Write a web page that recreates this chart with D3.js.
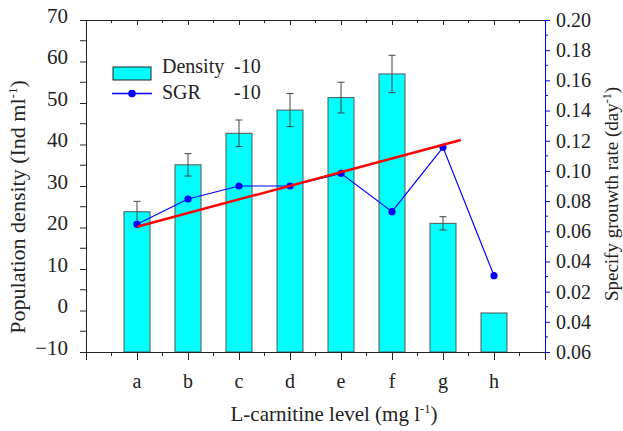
<!DOCTYPE html>
<html>
<head>
<meta charset="utf-8">
<script src="https://cdn.jsdelivr.net/npm/d3@7"></script>
<style>
  body { margin: 0; background: #fff; }
  svg text { font-family: "Liberation Serif", "Times New Roman", serif; fill: #222; }
</style>
</head>
<body>
<svg id="chart" width="623" height="431"></svg>
<script>
// data
var categories = ["a", "b", "c", "d", "e", "f", "g", "h"];
var density = [23.8, 35.1, 42.7, 48.3, 51.3, 57.0, 21.0, -0.6];
var densityErr = [2.5, 2.7, 3.2, 4.0, 3.7, 4.5, 1.6, 0];
var sgr = [0.0646, 0.0814, 0.090, 0.090, 0.0984, 0.073, 0.1156, 0.0306];
// red trend line, [category index, sgr]
var trend = [[0, 0.063], [6.35, 0.1205]];
var leftTicks = [-10, 0, 10, 20, 30, 40, 50, 60, 70];
var rightTicks = [0.20, 0.18, 0.16, 0.14, 0.12, 0.10, 0.08, 0.06, 0.04, 0.02, 0.00, -0.02];
// the picture prints these labels on the right axis
var rightLabels = ["0.20", "0.18", "0.16", "0.14", "0.12", "0.10", "0.08", "0.06", "0.04", "0.02", "0.04", "0.06"];

var svg = d3.select("#chart");
var margin = {left: 86, right: 78, top: 20, bottom: 79};
var W = 623, H = 431;

var x = d3.scaleLinear().domain([0, 9]).range([margin.left, W - margin.right]);
var y = d3.scaleLinear().domain([-10, 70]).range([H - margin.bottom, margin.top]);
var y2 = d3.scaleLinear().domain([-0.02, 0.20]).range([H - margin.bottom, margin.top]);

var step = x(1) - x(0);
var barW = step * 0.51;

// bars
svg.append("g").selectAll("rect")
  .data(density)
  .enter().append("rect")
  .attr("x", (d, i) => x(i + 1) - barW / 2)
  .attr("y", d => y(d))
  .attr("width", barW)
  .attr("height", d => y(-10) - y(d))
  .attr("fill", "#00ffff")
  .attr("stroke", "#555")
  .attr("stroke-width", 1);

// error bars
var eb = svg.append("g").attr("stroke", "#444").attr("stroke-width", 1);
density.forEach(function(d, i) {
  if (!densityErr[i]) return;
  var cx = x(i + 1);
  eb.append("line").attr("x1", cx).attr("x2", cx).attr("y1", y(d - densityErr[i])).attr("y2", y(d + densityErr[i]));
  eb.append("line").attr("x1", cx - 3.5).attr("x2", cx + 3.5).attr("y1", y(d + densityErr[i])).attr("y2", y(d + densityErr[i]));
  eb.append("line").attr("x1", cx - 3.5).attr("x2", cx + 3.5).attr("y1", y(d - densityErr[i])).attr("y2", y(d - densityErr[i]));
});

// SGR line
var line = d3.line().x((d, i) => x(i + 1)).y(d => y2(d));
svg.append("path")
  .datum(sgr)
  .attr("d", line)
  .attr("fill", "none")
  .attr("stroke", "#0000ff")
  .attr("stroke-width", 1.2);

svg.append("g").selectAll("circle")
  .data(sgr)
  .enter().append("circle")
  .attr("cx", (d, i) => x(i + 1))
  .attr("cy", d => y2(d))
  .attr("r", 3.6)
  .attr("fill", "#0000ff");

// trend line
svg.append("line")
  .attr("x1", x(trend[0][0] + 1)).attr("y1", y2(trend[0][1]))
  .attr("x2", x(trend[1][0] + 1)).attr("y2", y2(trend[1][1]))
  .attr("stroke", "#ff0000")
  .attr("stroke-width", 2.4);

// axes
var fs = "20px";

// bottom
var xAxis = d3.axisBottom(x).tickValues(d3.range(0, 9.01, 1)).tickSize(8).tickFormat("");
var gx = svg.append("g").attr("transform", "translate(0," + y(-10) + ")").call(xAxis);
gx.append("g").selectAll("line").data(d3.range(0.5, 9, 1)).enter().append("line")
  .attr("x1", d => x(d)).attr("x2", d => x(d)).attr("y1", 0).attr("y2", 4).attr("stroke", "#222");
gx.selectAll("text.cat").data(categories).enter().append("text").attr("class", "cat")
  .attr("x", (d, i) => x(i + 1)).attr("y", 36)
  .attr("text-anchor", "middle").style("font-size", fs).text(d => d);

// top
var gt = svg.append("g").attr("transform", "translate(0," + margin.top + ")")
  .call(d3.axisTop(x).tickValues(d3.range(1, 9, 1)).tickSize(-5).tickFormat(""));
gt.append("g").selectAll("line").data(d3.range(0.5, 9, 1)).enter().append("line")
  .attr("x1", d => x(d)).attr("x2", d => x(d)).attr("y1", 0).attr("y2", 3).attr("stroke", "#222");

// left
var gy = svg.append("g").attr("transform", "translate(" + margin.left + ",0)")
  .call(d3.axisLeft(y).tickValues(leftTicks).tickSize(6).tickPadding(12));
gy.append("g").selectAll("line").data(d3.range(-5, 70, 10)).enter().append("line")
  .attr("x1", -6).attr("x2", 0).attr("y1", d => y(d)).attr("y2", d => y(d)).attr("stroke", "#222");
gy.selectAll("text").style("font-size", "21px").attr("dy", "0.1em");

// right
var gr = svg.append("g").attr("transform", "translate(" + (W - margin.right) + ",0)")
  .call(d3.axisRight(y2).tickValues(rightTicks).tickSize(5).tickPadding(6)
    .tickFormat((d, i) => rightLabels[i]));
gr.append("g").selectAll("line").data(d3.range(-0.01, 0.2, 0.02)).enter().append("line")
  .attr("x1", 0).attr("x2", 3).attr("y1", d => y2(d)).attr("y2", d => y2(d)).attr("stroke", "#0000ff");
gr.select(".domain").attr("stroke", "#0000ff");
gr.selectAll(".tick line").attr("stroke", "#0000ff");
gr.selectAll("text").style("font-size", fs);

[gx, gt, gy].forEach(g => {
  g.select(".domain").attr("stroke", "#222");
  g.selectAll(".tick line").attr("stroke", "#222");
});
svg.selectAll(".tick text").attr("fill", "#222");

// axis titles
var xt = svg.append("text").attr("x", 334).attr("y", 421)
  .attr("text-anchor", "middle").style("font-size", "21px");
xt.append("tspan").text("L-carnitine level (mg l");
xt.append("tspan").attr("dy", -8).style("font-size", "12.5px").text("-1");
xt.append("tspan").attr("dy", 8).text(")");

var yt = svg.append("text").attr("transform", "translate(25," + 207 + ") rotate(-90)")
  .attr("text-anchor", "middle").style("font-size", "22px");
yt.append("tspan").text("Population density (Ind ml");
yt.append("tspan").attr("dy", -8).style("font-size", "13px").text("-1");
yt.append("tspan").attr("dy", 8).text(")");

var rt = svg.append("text").attr("transform", "translate(618," + 194 + ") rotate(-90)")
  .attr("text-anchor", "middle").style("font-size", "19px");
rt.append("tspan").text("Specify grouwth rate (day");
rt.append("tspan").attr("dy", -7).style("font-size", "12px").text("-1");
rt.append("tspan").attr("dy", 7).text(")");

// legend
var lg = svg.append("g");
lg.append("rect").attr("x", 113).attr("y", 67).attr("width", 38).attr("height", 13)
  .attr("fill", "#00ffff").attr("stroke", "#222");
lg.append("line").attr("x1", 112).attr("x2", 152).attr("y1", 93.5).attr("y2", 93.5)
  .attr("stroke", "#0000ff").attr("stroke-width", 1.5);
lg.append("circle").attr("cx", 132).attr("cy", 93.5).attr("r", 3.8).attr("fill", "#0000ff");
var legendNames = ["Density", "SGR"];
lg.selectAll("text.name").data(legendNames).enter().append("text").attr("class", "name")
  .attr("x", 162).attr("y", (d, i) => 73 + i * 25.5).style("font-size", fs).text(d => d);
lg.selectAll("text.suf").data(legendNames).enter().append("text").attr("class", "suf")
  .attr("x", 234).attr("y", (d, i) => 73 + i * 25.5).style("font-size", fs).text("-10");
</script>
</body>
</html>
